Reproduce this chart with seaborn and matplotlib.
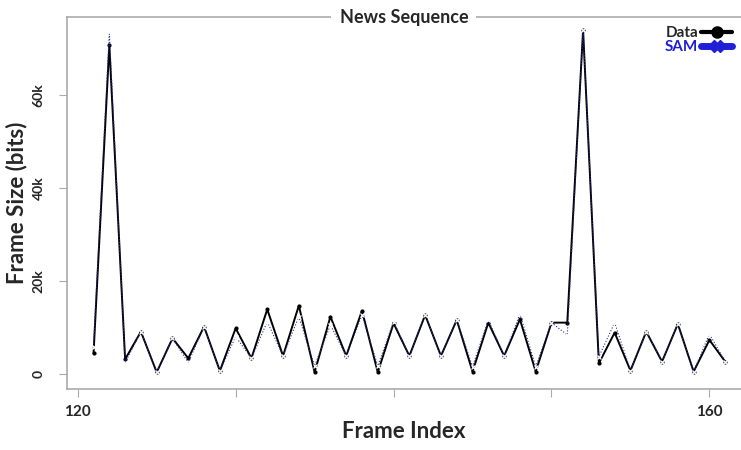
import pandas as pd
import matplotlib
matplotlib.use("Agg")
import matplotlib.pyplot as plt
import seaborn as sns

# values
frames = list(range(121, 162))
data_bits = [4400, 70750, 3150, 9100, 360, 7670, 3370, 10180, 650, 9820,
             3370, 13900, 3870, 14700, 360, 12330, 3870, 13620, 360, 10900,
             3870, 12690, 3870, 11610, 500, 11040, 3870, 11760, 500, 11040,
             11040, 74000, 2290, 8890, 720, 9100, 2650, 10750, 500, 7310,
             2650]
sam_bits = [5900, 73500, 2440, 9100, 360, 7670, 2440, 10180, 650, 8030,
            3370, 11250, 3870, 12330, 1720, 10540, 3870, 12690, 1720, 11250,
            3870, 12690, 3870, 11610, 1580, 11610, 3870, 12900, 1580, 11040,
            8390, 74000, 3730, 11040, 720, 9100, 2650, 10750, 500, 8600,
            2650]
x_ticks = [120, 130, 140, 150, 160]
x_ticklabels = ["120", "", "", "", "160"]
y_ticks = [0, 20000, 40000, 60000]
y_ticklabels = ["0", "20k", "40k", "60k"]

df = pd.DataFrame({"frame": frames, "Data": data_bits, "SAM": sam_bits})

sns.set_style("white")
plt.rcParams['font.family'] = ['Lato', 'DejaVu Sans']

fig = plt.figure(figsize=(7.41, 4.5), dpi=100)
ax = fig.add_axes([0.090, 0.136, 0.91, 0.826])

sns.lineplot(x="frame", y="Data", data=df, ax=ax, color="black", linewidth=1.4,
             marker="o", markersize=3, markeredgewidth=0)
sns.lineplot(x="frame", y="SAM", data=df, ax=ax, color="#2a2a9a", linewidth=0.8,
             linestyle=":", marker="x", markersize=3.5, markeredgewidth=0.9)

ax.set_xlim(119.3, 162)
ax.set_ylim(-3200, 76800)
ax.set_xticks(x_ticks)
ax.set_xticklabels(x_ticklabels, fontsize=11, fontweight="bold")
ax.set_yticks(y_ticks)
ax.set_yticklabels(y_ticklabels, fontsize=10, fontweight="bold", rotation=90, va="center")
ax.tick_params(axis="both", length=6, width=0.8, color="#aaaaaa", direction="out",
               left=True, bottom=True)
ax.tick_params(axis="x", pad=6)
ax.tick_params(axis="y", pad=10)

ax.set_xlabel("Frame Index", fontsize=16, fontweight="bold", labelpad=1)
ax.set_ylabel("Frame Size (bits)", fontsize=16, fontweight="bold", labelpad=4)

for side in ["left", "bottom", "top"]:
    ax.spines[side].set_color("#aaaaaa")
    ax.spines[side].set_linewidth(1.2)
ax.spines["right"].set_visible(False)

ax.text(0.5, 1.0, "News Sequence", transform=ax.transAxes, ha="center", va="center",
        fontsize=13, fontweight="bold",
        bbox=dict(facecolor="white", edgecolor="none", pad=6))

# legend: label on the left, handle on the right
handles = [plt.Line2D([], [], color="black", linewidth=3, marker="o", markersize=8,
                      markevery=[0]),
           plt.Line2D([], [], color="#1f1fd8", linewidth=5, marker="X", markersize=8,
                      markevery=[0])]
leg = ax.legend(handles, ["Data", "SAM"], loc="upper right", markerfirst=False,
                frameon=False, handlelength=2.0, handletextpad=0.2, labelspacing=0.0,
                borderaxespad=0.2, prop={"weight": "bold", "size": 11})
leg.get_texts()[1].set_color("#1f1fd8")

fig.savefig("out.png", dpi=100)
